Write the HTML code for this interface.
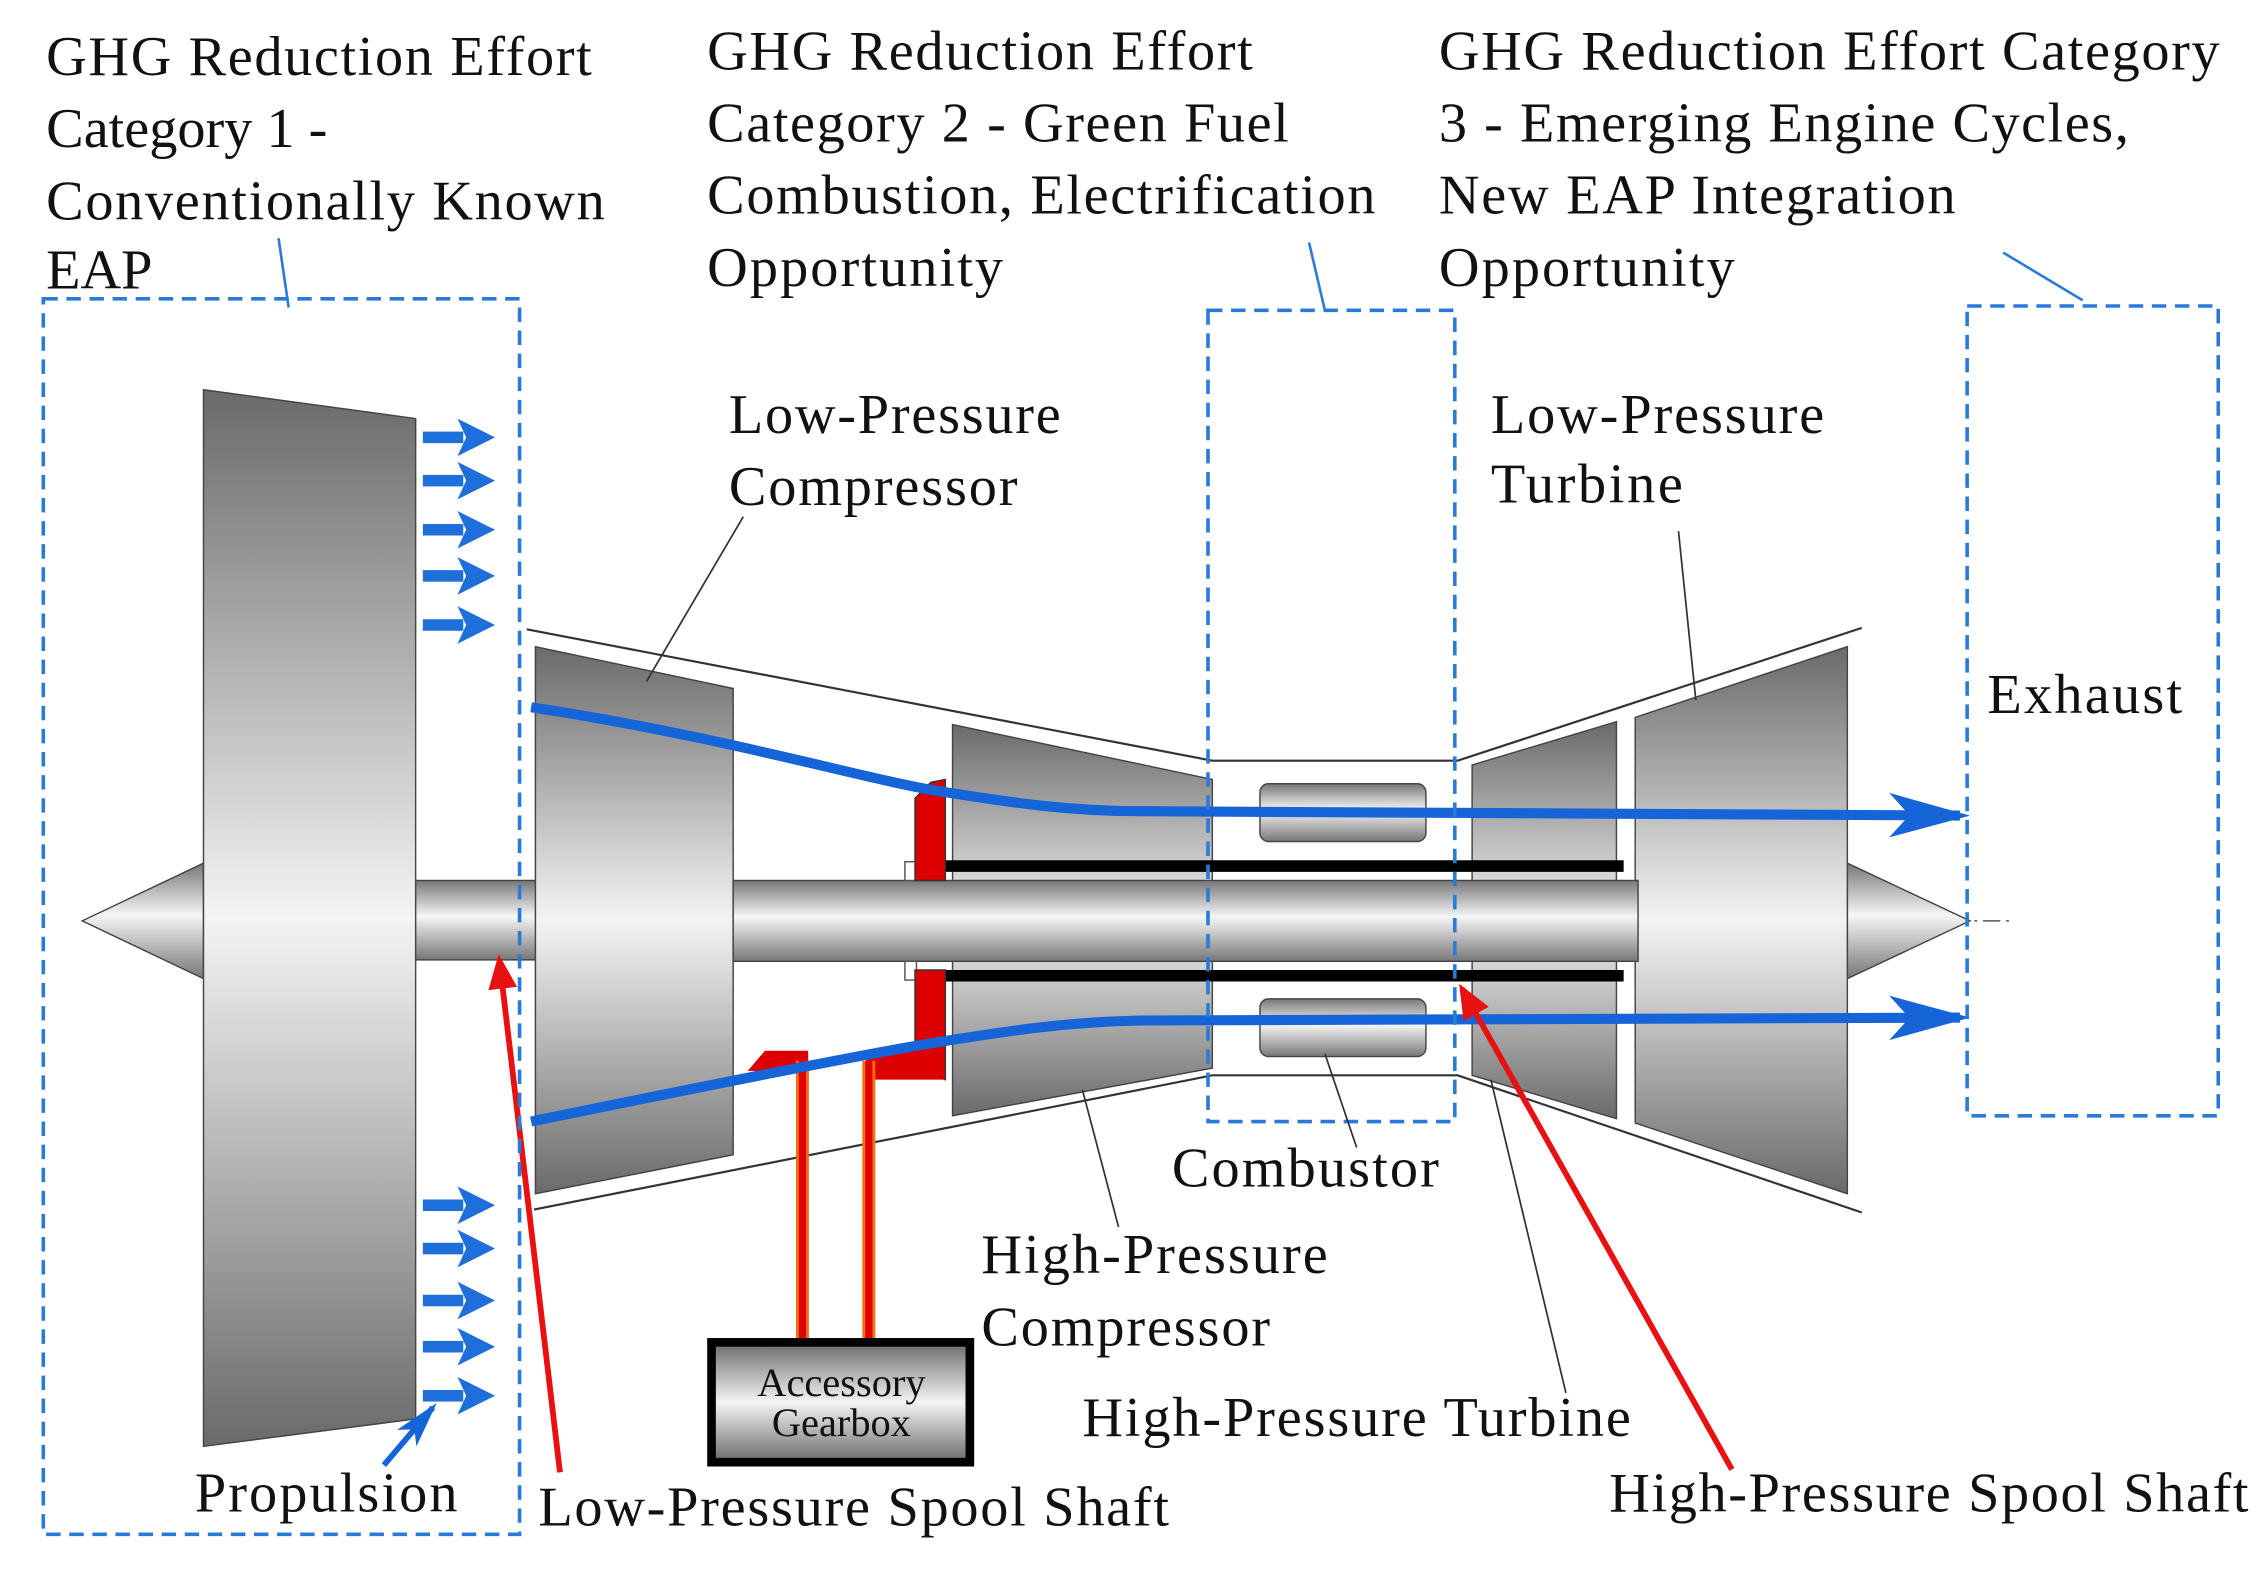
<!DOCTYPE html>
<html><head><meta charset="utf-8"><style>
html,body{margin:0;padding:0;background:#fff;}
svg{display:block;}
text{font-family:"Liberation Serif",serif;fill:#111;}
</style></head><body>
<svg width="2263" height="1569" viewBox="0 0 1568 1087" preserveAspectRatio="none" xmlns="http://www.w3.org/2000/svg">
<defs>
<linearGradient id="gv" x1="0" y1="0" x2="0" y2="1">
<stop offset="0" stop-color="#777"/><stop offset="0.45" stop-color="#f6f6f6"/><stop offset="1" stop-color="#777"/></linearGradient>
<linearGradient id="gb" x1="0" y1="0" x2="0" y2="1">
<stop offset="0" stop-color="#6a6a6a"/><stop offset="0.5" stop-color="#f4f4f4"/><stop offset="1" stop-color="#6a6a6a"/></linearGradient>
<marker id="ab" markerWidth="8" markerHeight="6" refX="7" refY="3" orient="auto" markerUnits="strokeWidth"><path d="M0,0.8 L8,3 L0,5.2 L2,3z" fill="#1565d8"/></marker>
<marker id="ar" markerWidth="6" markerHeight="5" refX="5" refY="2.5" orient="auto" markerUnits="strokeWidth"><path d="M0,0 L6,2.5 L0,5z" fill="#e81010"/></marker>
<g id="sa"><rect x="0" y="-4" width="28" height="8" fill="#1e6fd9"/><path d="M24,-13 L50,0 L24,13 L30,0z" fill="#1e6fd9"/></g>
</defs>

<g stroke="#333" stroke-width="1.5" fill="none">
<path d="M365,436 L840,527 L1010,527 L1290,435"/>
<path d="M370,838 L840,745 L1010,745 L1290,840"/>
</g>
<line x1="120" y1="638" x2="1395" y2="638" stroke="#555" stroke-width="1" stroke-dasharray="12,4,2,4"/>
<path d="M57,638 L141,598 L141,678z" fill="url(#gv)" stroke="#444"/>
<path d="M1280,598 L1365,638 L1280,678z" fill="url(#gv)" stroke="#444"/>
<rect x="285" y="610" width="88" height="55" fill="url(#gv)" stroke="#444"/>
<path d="M141,270 L288,290 L288,983 L141,1002z" fill="url(#gb)" stroke="#444"/>
<path d="M371,448 L508,477 L508,800 L371,827z" fill="url(#gb)" stroke="#444"/>
<path d="M660,502 L840,540 L840,740 L660,773z" fill="url(#gb)" stroke="#444"/>
<path d="M1020,530 L1120,500 L1120,775 L1020,745z" fill="url(#gb)" stroke="#444"/>
<path d="M1133,497 L1280,448 L1280,827 L1133,778z" fill="url(#gb)" stroke="#444"/>
<rect x="508" y="610" width="627" height="56" fill="url(#gv)" stroke="#444"/>
<rect x="873" y="543" width="115" height="40" rx="6" fill="url(#gv)" stroke="#444"/>
<rect x="873" y="692" width="115" height="40" rx="6" fill="url(#gv)" stroke="#444"/>
<line x1="652" y1="600" x2="1125" y2="600" stroke="#000" stroke-width="8"/>
<line x1="652" y1="676" x2="1125" y2="676" stroke="#000" stroke-width="8"/>
<rect x="627" y="597" width="8" height="13" fill="#fff" stroke="#555"/>
<rect x="627" y="666" width="8" height="13" fill="#fff" stroke="#555"/>
<path d="M634,553 L645,542 L655,540 L655,610 L634,610z" fill="#dd0000" stroke="#333" stroke-width="1"/>
<path d="M634,672 L655,672 L655,748 L634,740z" fill="#dd0000" stroke="#333" stroke-width="1"/>
<path d="M518,742 L530,728 L560,728 L560,742z" fill="#dd0000"/>
<path d="M600,728 L645,728 L655,748 L600,748z" fill="#dd0000"/>
<line x1="556" y1="735" x2="556" y2="928" stroke="#f07010" stroke-width="9"/>
<line x1="556" y1="735" x2="556" y2="928" stroke="#e00000" stroke-width="5"/>
<line x1="602" y1="735" x2="602" y2="928" stroke="#f07010" stroke-width="9"/>
<line x1="602" y1="735" x2="602" y2="928" stroke="#e00000" stroke-width="5"/>
<rect x="493" y="930" width="179" height="83" fill="url(#gb)" stroke="#000" stroke-width="6"/>
<text x="583" y="967" font-size="28" text-anchor="middle">Accessory</text>
<text x="583" y="995" font-size="28" text-anchor="middle">Gearbox</text>
<path d="M368,490 C500,510 600,540 650,548 C700,556 740,562 790,562 L1358,565" fill="none" stroke="#1565d8" stroke-width="7" marker-end="url(#ab)"/>
<path d="M368,777 C500,750 600,730 650,722 C700,714 740,708 790,707 L1358,705" fill="none" stroke="#1565d8" stroke-width="7" marker-end="url(#ab)"/>
<use href="#sa" x="293" y="303"/><use href="#sa" x="293" y="333"/><use href="#sa" x="293" y="367"/><use href="#sa" x="293" y="399"/><use href="#sa" x="293" y="433"/>
<use href="#sa" x="293" y="835"/><use href="#sa" x="293" y="865"/><use href="#sa" x="293" y="901"/><use href="#sa" x="293" y="933"/><use href="#sa" x="293" y="967"/>
<line x1="266" y1="1015" x2="300" y2="975" stroke="#1565d8" stroke-width="4" marker-end="url(#ab)"/>
<line x1="388" y1="1020" x2="346" y2="665" stroke="#e81010" stroke-width="4" marker-end="url(#ar)"/>
<line x1="1200" y1="1018" x2="1013" y2="685" stroke="#e81010" stroke-width="4" marker-end="url(#ar)"/>
<g fill="none" stroke="#2a7ad8" stroke-width="2.5" stroke-dasharray="10,6">
<rect x="30" y="207" width="330" height="856"/>
<rect x="837" y="215" width="171" height="562"/>
<rect x="1363" y="212" width="174" height="561"/>
</g>
<g stroke="#2a7ad8" stroke-width="1.8">
<line x1="193" y1="165" x2="200" y2="213"/>
<line x1="907" y1="168" x2="918" y2="215"/>
<line x1="1388" y1="175" x2="1443" y2="208"/>
</g>
<g stroke="#333" stroke-width="1.2">
<line x1="515" y1="358" x2="448" y2="472"/>
<line x1="1163" y1="368" x2="1175" y2="485"/>
<line x1="940" y1="795" x2="918" y2="730"/>
<line x1="775" y1="850" x2="750" y2="755"/>
<line x1="1085" y1="965" x2="1033" y2="748"/>
</g>
<g font-size="39">
<text x="32" y="52" textLength="378">GHG Reduction Effort</text>
<text x="32" y="102">Category 1 -</text>
<text x="32" y="152" textLength="387">Conventionally Known</text>
<text x="32" y="200">EAP</text>
<text x="490" y="48" textLength="378">GHG Reduction Effort</text>
<text x="490" y="98" textLength="403">Category 2 - Green Fuel</text>
<text x="490" y="148" textLength="463">Combustion, Electrification</text>
<text x="490" y="198" textLength="205">Opportunity</text>
<text x="997" y="48" textLength="541">GHG Reduction Effort Category</text>
<text x="997" y="98" textLength="478">3 - Emerging Engine Cycles,</text>
<text x="997" y="148" textLength="358">New EAP Integration</text>
<text x="997" y="198" textLength="205">Opportunity</text>
<text x="505" y="300" textLength="230">Low-Pressure</text>
<text x="505" y="350" textLength="200">Compressor</text>
<text x="1033" y="300" textLength="231">Low-Pressure</text>
<text x="1033" y="348" textLength="133">Turbine</text>
<text x="1377" y="494" textLength="135">Exhaust</text>
<text x="812" y="822" textLength="185">Combustor</text>
<text x="680" y="882" textLength="240">High-Pressure</text>
<text x="680" y="932" textLength="200">Compressor</text>
<text x="750" y="995" textLength="380">High-Pressure Turbine</text>
<text x="135" y="1047" textLength="182">Propulsion</text>
<text x="373" y="1057" textLength="437">Low-Pressure Spool Shaft</text>
<text x="1115" y="1047" textLength="443">High-Pressure Spool Shaft</text>
</g>
</svg>
</body></html>
